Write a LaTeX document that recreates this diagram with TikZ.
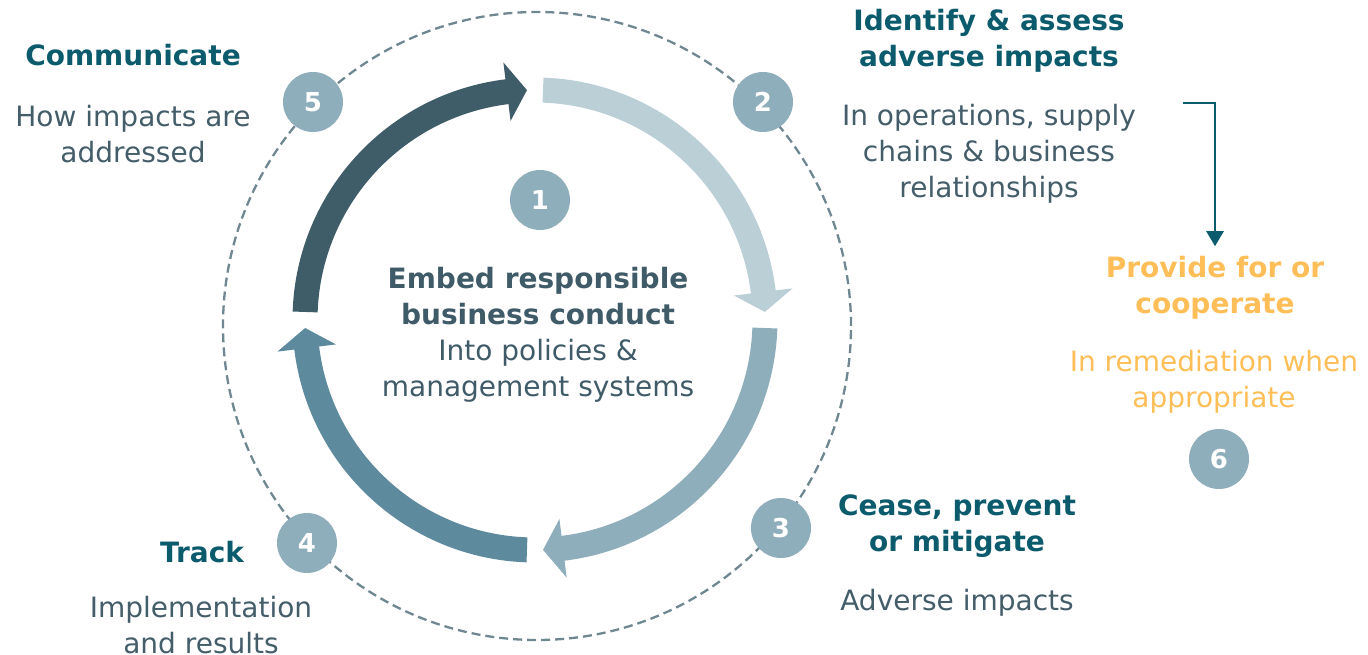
\documentclass[tikz,border=0pt]{standalone}
\usepackage{fontspec}
\setmainfont{DejaVu Sans}
\usetikzlibrary{arrows.meta}
\definecolor{headteal}{HTML}{0B5B6C}
\definecolor{bodygray}{HTML}{435D69}
\definecolor{embedgray}{HTML}{3F5B68}
\definecolor{remedy}{HTML}{FFBE58}
\definecolor{badgeblue}{HTML}{8FAEBB}
\definecolor{ringgray}{HTML}{6F8791}
\definecolor{arrowdark}{HTML}{3F5C69}
\definecolor{arrowlight}{HTML}{BBCFD7}
\definecolor{arrowmid}{HTML}{8FAEBB}
\definecolor{arrowblue}{HTML}{5E8A9E}
\begin{document}
\begin{tikzpicture}[x=1pt, y=1pt,
  every node/.style = {align=center, inner sep=0pt,
    font=\fontsize{28}{36}\selectfont},
  head/.style = {color=headteal, font=\fontsize{28}{36}\selectfont\bfseries},
  body/.style = {color=bodygray},
  badge/.style = {circle, fill=badgeblue, minimum size=60pt,
    text=white, font=\fontsize{26}{26}\selectfont\bfseries}]
  \useasboundingbox (0,0) rectangle (1368,655);
  % dashed ring with the step numbers
  \draw[ringgray, line width=2.3pt, dash pattern=on 9pt off 5pt] (537,329) circle[radius=314];
  % the four cycle arrows
  \begin{scope}[shift={(535,335)}]
    \foreach \col/\s in {arrowdark/178, arrowlight/88, arrowmid/-2, arrowblue/-92}
      \fill[\col] (\s:242.5) arc[start angle=\s, end angle=\s-81, radius=242.5]
        -- ({\s-81}:259.5) -- ({\s-86}:230) -- ({\s-81}:200.5) -- ({\s-81}:217.5)
        arc[start angle=\s-81, end angle=\s, radius=217.5] -- cycle;
  \end{scope}
  \node[badge] (b1) at (540,455) {1};
  \node[badge] (b2) at (763,553) {2};
  \node[badge] (b3) at (781,127) {3};
  \node[badge] (b4) at (307,112) {4};
  \node[badge] (b5) at (313,553) {5};
  \node[badge] (b6) at (1219,196) {6};
  % centre text
  \node[color=embedgray] (embed) at (538,320)
    {\textbf{Embed responsible}\\ \textbf{business conduct}\\
     Into policies \&\\ management systems};
  % step labels
  \node[head] (commhead) at (133,600) {Communicate};
  \node[body] (commbody) at (133,521) {How impacts are\\ addressed};
  \node[head] (identhead) at (989,614) {Identify \& assess\\ adverse impacts};
  \node[body] (identbody) at (989,501) {In operations, supply\\
    chains \& business\\ relationships};
  \node[head, color=remedy] (provhead) at (1215,367) {Provide for or\\ cooperate};
  \node[body, color=remedy] (provbody) at (1214,273) {In remediation when\\ appropriate};
  \node[head] (ceasehead) at (957,129) {Cease, prevent\\ or mitigate};
  \node[body] (ceasebody) at (957,52) {Adverse impacts};
  \node[head] (trackhead) at (202,103) {Track};
  \node[body] (trackbody) at (201,30) {Implementation\\ and results};
  % link to remediation
  \coordinate (identout) at (1183,552);
  \draw[headteal, line width=2.5pt, -{Triangle[length=15pt, width=17pt]}]
    (identout) -| ([yshift=10pt]provhead.north);
\end{tikzpicture}
\end{document}
